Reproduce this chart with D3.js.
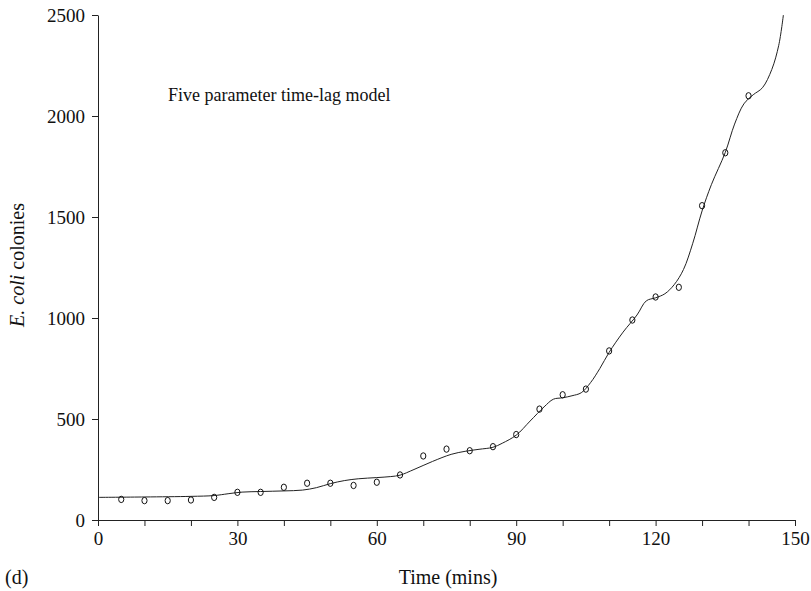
<!DOCTYPE html>
<html>
<head>
<meta charset="utf-8">
<script src="https://cdn.jsdelivr.net/npm/d3@7"></script>
<style>
  html, body { margin: 0; padding: 0; background: #fff; }
  svg { display: block; }
  text { font-family: "Liberation Serif", "Times New Roman", serif; fill: #111; }
</style>
</head>
<body>
<svg id="chart" width="811" height="591"></svg>
<script>
// Observed data: time (mins) and E. coli colony counts
const obsTime = [5, 10, 15, 20, 25, 30, 35, 40, 45, 50, 55, 60, 65, 70, 75, 80, 85, 90, 95, 100, 105, 110, 115, 120, 125, 130, 135, 140];
const obsCount = [102, 96, 96, 99, 112, 137, 137, 162, 182, 182, 171, 187, 223, 317, 351, 343, 363, 423, 549, 620, 648, 837, 990, 1104, 1152, 1556, 1818, 2100];

// Fitted five parameter time-lag model curve
const fitTime = [0, 10, 20, 25, 28, 31, 35, 40, 44, 47, 50, 53, 56, 60, 63, 65, 68, 72, 76, 79, 82, 85, 87, 90, 93, 96, 98, 100, 102, 104, 106, 108, 110, 113, 116, 118, 120, 122, 124, 126, 128, 130, 132, 135, 137, 139, 141, 143, 145, 146.5, 147.5];
const fitCount = [112, 114, 117, 121, 130, 138, 141, 144, 148, 160, 180, 195, 204, 210, 215, 222, 250, 290, 325, 340, 350, 360, 380, 420, 490, 560, 598, 605, 615, 630, 680, 750, 830, 930, 1015, 1085, 1100, 1120, 1165, 1240, 1370, 1530, 1660, 1820, 1960, 2060, 2105, 2140, 2230, 2350, 2500];

const xTicks = [0, 10, 20, 30, 40, 50, 60, 70, 80, 90, 100, 110, 120, 130, 140, 150];
const xLabelTicks = [0, 30, 60, 90, 120, 150];
const yTicks = [0, 500, 1000, 1500, 2000, 2500];

const svg = d3.select("#chart");
const x = d3.scaleLinear().domain([0, 150]).range([98, 795]);
const y = d3.scaleLinear().domain([0, 2500]).range([520, 15]);

const fs = 19;

// X axis
const xAxis = d3.axisBottom(x)
  .tickValues(xTicks)
  .tickSize(6)
  .tickSizeOuter(0)
  .tickPadding(6)
  .tickFormat(d => xLabelTicks.includes(d) ? String(d) : "");
const gx = svg.append("g").attr("transform", "translate(0,520)").call(xAxis);
gx.select(".domain").attr("stroke", "#222");
gx.selectAll(".tick line").attr("stroke", "#222");
gx.selectAll("text").attr("font-size", fs).attr("font-family", "Liberation Serif").attr("fill", "#111");

// Y axis
const yAxis = d3.axisLeft(y)
  .tickValues(yTicks)
  .tickSize(6)
  .tickSizeOuter(0)
  .tickPadding(7)
  .tickFormat(d => String(d));
const gy = svg.append("g").attr("transform", "translate(98,0)").call(yAxis);
gy.select(".domain").attr("stroke", "#222");
gy.selectAll(".tick line").attr("stroke", "#222");
gy.selectAll("text").attr("font-size", fs).attr("font-family", "Liberation Serif").attr("fill", "#111");

// Fitted curve
const line = d3.line()
  .x((d, i) => x(fitTime[i]))
  .y((d, i) => y(fitCount[i]))
  .curve(d3.curveCatmullRom.alpha(0.5));
svg.append("path")
  .attr("d", line(fitTime))
  .attr("fill", "none")
  .attr("stroke", "#222")
  .attr("stroke-width", 1);

// Observed points (open circles)
svg.append("g").selectAll("ellipse")
  .data(obsTime)
  .join("ellipse")
  .attr("cx", (d, i) => x(obsTime[i]))
  .attr("cy", (d, i) => y(obsCount[i]))
  .attr("rx", 2.6)
  .attr("ry", 3.2)
  .attr("fill", "none")
  .attr("stroke", "#111")
  .attr("stroke-width", 1);

// Title inside plot
svg.append("text")
  .attr("x", 168).attr("y", 101)
  .attr("font-size", 18)
  .text("Five parameter time-lag model");

// X axis title
svg.append("text")
  .attr("x", 448).attr("y", 584)
  .attr("text-anchor", "middle")
  .attr("font-size", 20)
  .text("Time (mins)");

// Panel label
svg.append("text")
  .attr("x", 5).attr("y", 584)
  .attr("font-size", 20)
  .text("(d)");

// Y axis title
const yt = svg.append("text")
  .attr("transform", "translate(24,265) rotate(-90)")
  .attr("text-anchor", "middle")
  .attr("font-size", 20);
yt.append("tspan").attr("font-style", "italic").text("E. coli");
yt.append("tspan").text(" colonies");
</script>
</body>
</html>
